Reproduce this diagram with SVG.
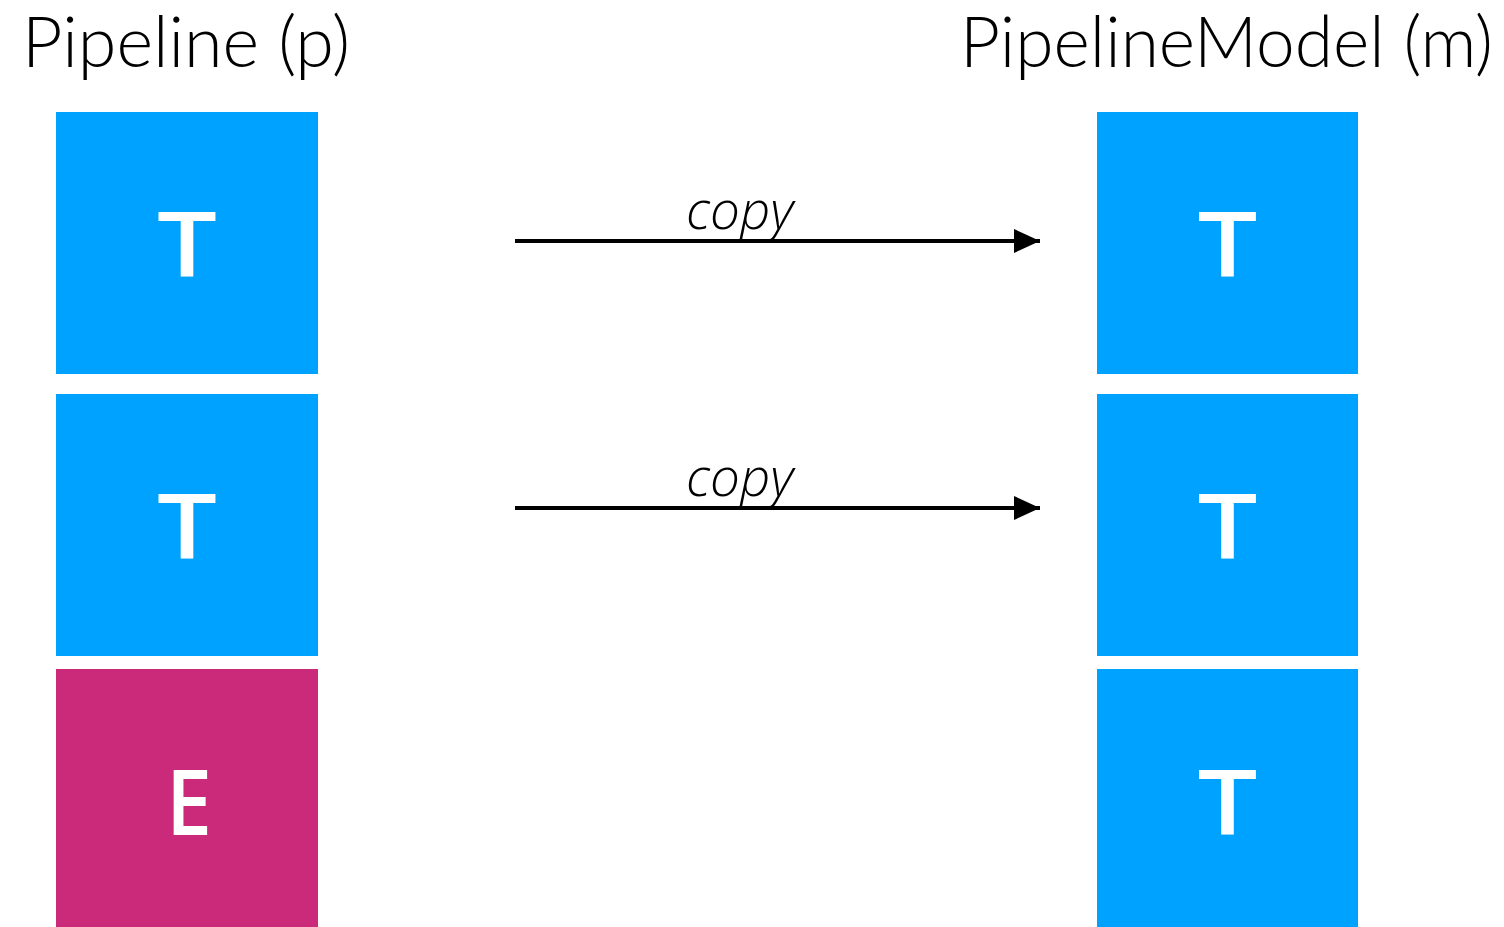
<svg xmlns="http://www.w3.org/2000/svg" width="1504" height="927" viewBox="0 0 1504 927">
<defs>
<style>
.title{font-family:Lato,"Open Sans",sans-serif;font-weight:300;font-size:70px;fill:#000}
.lbl{font-family:"Open Sans","Liberation Sans",sans-serif;font-weight:600;font-size:90px;fill:#fff;text-anchor:middle}
.t{fill:#00A2FF}
.e{fill:#CA2A79}
.copy{font-family:"Open Sans","Liberation Sans",sans-serif;font-style:italic;font-weight:300;font-size:53px;fill:#000}
.conn{stroke:#000;stroke-width:4;fill:none}
</style>
<marker id="ah" markerWidth="7" markerHeight="7" refX="6.5" refY="3" orient="auto" markerUnits="strokeWidth">
<path d="M0,0 L6.5,3 L0,6 Z" fill="#000"/>
</marker>
</defs>
<rect width="1504" height="927" fill="#fff"/>
<text class="title" x="22" y="67" textLength="328" lengthAdjust="spacingAndGlyphs">Pipeline (p)</text>
<text class="title" x="960" y="67" textLength="533" lengthAdjust="spacingAndGlyphs">PipelineModel (m)</text>
<g id="p1"><rect class="t" x="56" y="112" width="262" height="262"/><text class="lbl" x="187" y="277" textLength="60" lengthAdjust="spacingAndGlyphs">T</text></g>
<g id="p2"><rect class="t" x="56" y="394" width="262" height="262"/><text class="lbl" x="187" y="559" textLength="60" lengthAdjust="spacingAndGlyphs">T</text></g>
<g id="p3"><rect class="e" x="56" y="669" width="262" height="258"/><text class="lbl" x="189" y="835" textLength="46" lengthAdjust="spacingAndGlyphs">E</text></g>
<g id="m1"><rect class="t" x="1097" y="112" width="261" height="262"/><text class="lbl" x="1227.5" y="277" textLength="60" lengthAdjust="spacingAndGlyphs">T</text></g>
<g id="m2"><rect class="t" x="1097" y="394" width="261" height="262"/><text class="lbl" x="1227.5" y="559" textLength="60" lengthAdjust="spacingAndGlyphs">T</text></g>
<g id="m3"><rect class="t" x="1097" y="669" width="261" height="258"/><text class="lbl" x="1227.5" y="835" textLength="60" lengthAdjust="spacingAndGlyphs">T</text></g>
<g id="connectors">
<line class="conn" x1="515" y1="241" x2="1040" y2="241" marker-end="url(#ah)"/>
<text class="copy" x="686" y="229">copy</text>
<line class="conn" x1="515" y1="508" x2="1040" y2="508" marker-end="url(#ah)"/>
<text class="copy" x="686" y="496">copy</text>
</g>
</svg>
